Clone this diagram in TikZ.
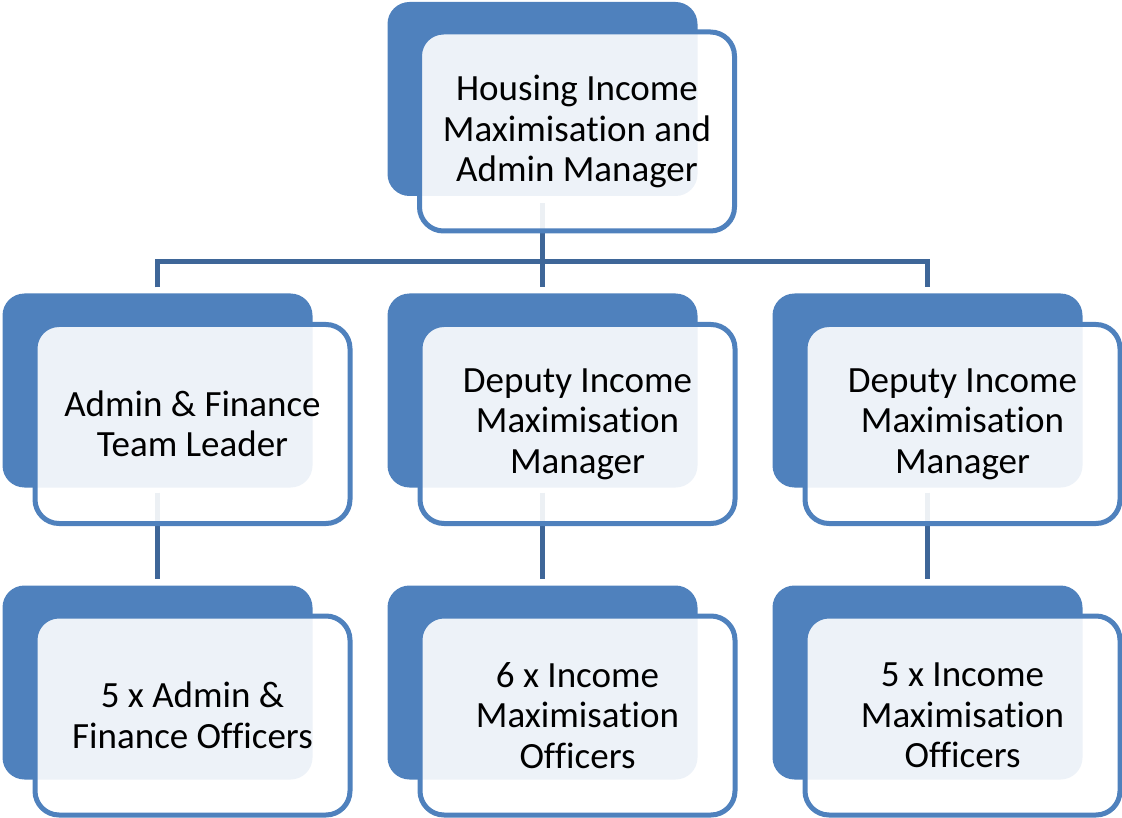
\documentclass[tikz,border=0pt]{standalone}
\usepackage{fontspec}
\setmainfont{Carlito}[Ligatures=NoCommon]
\definecolor{backblue}{HTML}{4F81BD}
\definecolor{connblue}{HTML}{3E6698}
\begin{document}
\begin{tikzpicture}[x=1pt,y=1pt,
  backbox/.style={fill=backblue, draw=none, rounded corners=22pt, minimum width=310pt, minimum height=194pt, inner sep=0pt},
  frontbox/.style={draw=backblue, line width=5pt, fill=white, fill opacity=0.9, text opacity=1, rounded corners=24pt, minimum width=315pt, minimum height=199pt, inner sep=0pt, align=center, font=\fontsize{37}{40.5}\selectfont},
  conn/.style={draw=connblue, line width=5pt, line join=miter}]
\useasboundingbox (0,0) rectangle (1122,-818);
% back boxes
\node[backbox] (b0) at (542.5,-99) {};
\node[backbox] (b1) at (157.5,-390.5) {};
\node[backbox] (b2) at (542.5,-390.5) {};
\node[backbox] (b3) at (927.5,-390.5) {};
\node[backbox] (c1) at (157.5,-682.5) {};
\node[backbox] (c2) at (542.5,-682.5) {};
\node[backbox] (c3) at (927.5,-682.5) {};
% connectors
\coordinate (bus) at (542,-261.5);
\draw[conn] ([yshift=-7pt]b0.south) -- (b0.south |- bus);
\draw[conn] ([yshift=6pt]b1.north) |- (bus) -| ([yshift=6pt]b3.north);
\draw[conn] (b2.north |- bus) -- ([yshift=6pt]b2.north);
\draw[conn] ([yshift=-5pt]b1.south) -- ([yshift=6pt]c1.north);
\draw[conn] ([yshift=-5pt]b2.south) -- ([yshift=6pt]c2.north);
\draw[conn] ([yshift=-5pt]b3.south) -- ([yshift=6pt]c3.north);
% front boxes
\node[frontbox] (f0) at (577,-131.5) {Housing Income\\Maximisation and\\Admin Manager};
\node[frontbox] (f1) at (192.5,-424) {Admin \& Finance\\Team Leader};
\node[frontbox] (f2) at (577.5,-424) {Deputy Income\\Maximisation\\Manager};
\node[frontbox] (f3) at (962.5,-424) {Deputy Income\\Maximisation\\Manager};
\node[frontbox] (g1) at (192.5,-715.5) {5 x Admin \&\\Finance Officers};
\node[frontbox] (g2) at (577.5,-715.5) {6 x Income\\Maximisation\\Officers};
\node[frontbox] (g3) at (962.5,-715.5) {5 x Income\\Maximisation\\Officers};
\end{tikzpicture}
\end{document}
